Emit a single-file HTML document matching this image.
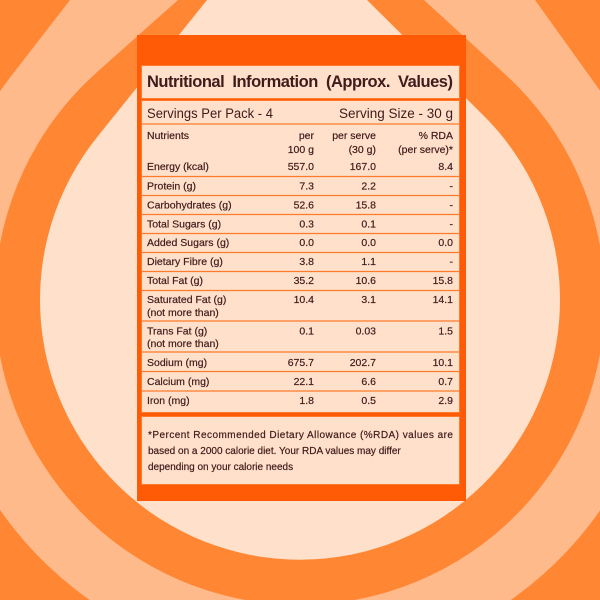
<!DOCTYPE html>
<html><head><meta charset="utf-8"><style>
html,body{margin:0;padding:0;width:600px;height:600px;overflow:hidden;background:#FF8633}
svg{display:block;position:absolute;left:0;top:0}
text{font-family:"Liberation Sans",sans-serif;fill:#3f1b1b}
</style></head><body>
<svg width="600" height="600" viewBox="0 0 600 600" xmlns="http://www.w3.org/2000/svg">
<rect width="600" height="600" fill="#FF8633"/>
<path d="M70,0 L535,0 L596,85 A366,366 0 1 1 12,75 Z" fill="#FFBA8C"/>
<path d="M178,0 L424,0 L507,76 A305,305 0 1 1 96,73 Z" fill="#FF8633"/>
<path d="M207,0 L367,0 L483,115 A260,260 0 1 1 98,136 Z" fill="#FFE1CB"/>

<rect x="137" y="35" width="329" height="466" fill="#FF5A05"/>
<rect x="141.5" y="65.5" width="318" height="33" fill="#FFE1CB" stroke="#FF7A2A" stroke-width="1"/>
<rect x="141.5" y="100.5" width="318" height="312" fill="#FFE1CB" stroke="#FF7A2A" stroke-width="1"/>
<rect x="141.5" y="416.5" width="318" height="68" fill="#FFE1CB" stroke="#FF7A2A" stroke-width="1"/>

<text x="147" y="87" font-size="16.5" font-weight="bold" textLength="306" lengthAdjust="spacing" word-spacing="4">Nutritional  Information  (Approx. Values)</text>

<text x="147" y="118" font-size="13.5" textLength="126" lengthAdjust="spacingAndGlyphs">Servings Per Pack - 4</text>
<text x="453" y="118" font-size="13.5" text-anchor="end">Serving Size - 30 g</text>

<g stroke="#FF7A2A" stroke-width="1.3">
<line x1="141" y1="124" x2="460" y2="124"/>
<line x1="141" y1="176.5" x2="460" y2="176.5"/>
<line x1="141" y1="195.5" x2="460" y2="195.5"/>
<line x1="141" y1="214.5" x2="460" y2="214.5"/>
<line x1="141" y1="233.5" x2="460" y2="233.5"/>
<line x1="141" y1="252.5" x2="460" y2="252.5"/>
<line x1="141" y1="271.5" x2="460" y2="271.5"/>
<line x1="141" y1="290.5" x2="460" y2="290.5"/>
<line x1="141" y1="321" x2="460" y2="321"/>
<line x1="141" y1="352" x2="460" y2="352"/>
<line x1="141" y1="371.5" x2="460" y2="371.5"/>
<line x1="141" y1="391" x2="460" y2="391"/>
</g>

<g font-size="10.5" stroke="#3f1b1b" stroke-width="0.2">
<text x="147" y="139">Nutrients</text>
<text x="314" y="139" text-anchor="end">per</text>
<text x="314" y="153" text-anchor="end">100 g</text>
<text x="376" y="139" text-anchor="end">per serve</text>
<text x="376" y="153" text-anchor="end">(30 g)</text>
<text x="453" y="139" text-anchor="end">% RDA</text>
<text x="453" y="153" text-anchor="end">(per serve)*</text>

<text x="147" y="170">Energy (kcal)</text><text x="314" y="170" text-anchor="end">557.0</text><text x="376" y="170" text-anchor="end">167.0</text><text x="453" y="170" text-anchor="end">8.4</text>
<text x="147" y="189.5">Protein (g)</text><text x="314" y="189.5" text-anchor="end">7.3</text><text x="376" y="189.5" text-anchor="end">2.2</text><text x="453" y="189.5" text-anchor="end">-</text>
<text x="147" y="208.5">Carbohydrates (g)</text><text x="314" y="208.5" text-anchor="end">52.6</text><text x="376" y="208.5" text-anchor="end">15.8</text><text x="453" y="208.5" text-anchor="end">-</text>
<text x="147" y="227.5">Total Sugars (g)</text><text x="314" y="227.5" text-anchor="end">0.3</text><text x="376" y="227.5" text-anchor="end">0.1</text><text x="453" y="227.5" text-anchor="end">-</text>
<text x="147" y="246">Added Sugars (g)</text><text x="314" y="246" text-anchor="end">0.0</text><text x="376" y="246" text-anchor="end">0.0</text><text x="453" y="246" text-anchor="end">0.0</text>
<text x="147" y="265">Dietary Fibre (g)</text><text x="314" y="265" text-anchor="end">3.8</text><text x="376" y="265" text-anchor="end">1.1</text><text x="453" y="265" text-anchor="end">-</text>
<text x="147" y="284">Total Fat (g)</text><text x="314" y="284" text-anchor="end">35.2</text><text x="376" y="284" text-anchor="end">10.6</text><text x="453" y="284" text-anchor="end">15.8</text>
<text x="147" y="303">Saturated Fat (g)</text><text x="147" y="316">(not more than)</text><text x="314" y="303" text-anchor="end">10.4</text><text x="376" y="303" text-anchor="end">3.1</text><text x="453" y="303" text-anchor="end">14.1</text>
<text x="147" y="334.5">Trans Fat (g)</text><text x="147" y="347">(not more than)</text><text x="314" y="334.5" text-anchor="end">0.1</text><text x="376" y="334.5" text-anchor="end">0.03</text><text x="453" y="334.5" text-anchor="end">1.5</text>
<text x="147" y="366">Sodium (mg)</text><text x="314" y="366" text-anchor="end">675.7</text><text x="376" y="366" text-anchor="end">202.7</text><text x="453" y="366" text-anchor="end">10.1</text>
<text x="147" y="385">Calcium (mg)</text><text x="314" y="385" text-anchor="end">22.1</text><text x="376" y="385" text-anchor="end">6.6</text><text x="453" y="385" text-anchor="end">0.7</text>
<text x="147" y="404">Iron (mg)</text><text x="314" y="404" text-anchor="end">1.8</text><text x="376" y="404" text-anchor="end">0.5</text><text x="453" y="404" text-anchor="end">2.9</text>
</g>

<g font-size="10" stroke="#3f1b1b" stroke-width="0.2">
<text x="148" y="438" textLength="305" lengthAdjust="spacing">*Percent Recommended Dietary Allowance (%RDA) values are</text>
<text x="148" y="454">based on a 2000 calorie diet. Your RDA values may differ</text>
<text x="148" y="470">depending on your calorie needs</text>
</g>
</svg>
</body></html>
